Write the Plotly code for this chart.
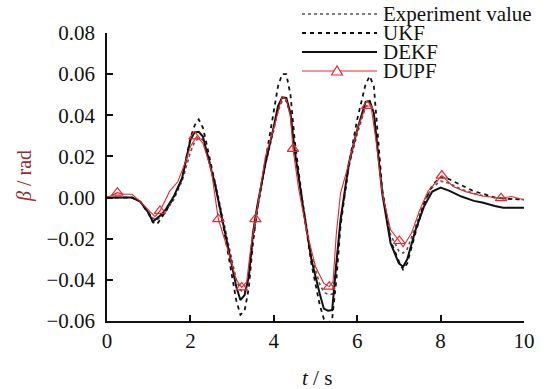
import plotly.graph_objects as go

# ---------------- data ----------------
exp_t = [0, 0.6, 0.8, 1.0, 1.1, 1.2, 1.3, 1.4, 1.6, 1.8, 2.0, 2.1, 2.2, 2.3, 2.4, 2.6, 2.8, 3.0, 3.1, 3.2, 3.3, 3.4,
         3.5, 3.6, 3.8, 4.0, 4.1, 4.2, 4.3, 4.4, 4.5, 4.7, 4.9, 5.1, 5.2, 5.3, 5.4, 5.5, 5.6, 5.8, 6.0, 6.2, 6.3, 6.4,
         6.5, 6.6, 6.8, 7.0, 7.1, 7.2, 7.4, 7.6, 7.8, 8.0, 8.2, 8.5, 8.8, 9.0, 9.3, 9.5, 10]
exp_v = [0, 0, -0.002, -0.007, -0.010, -0.011, -0.009, -0.007, -0.001, 0.008, 0.022, 0.027, 0.029, 0.028, 0.022, 0.007,
         -0.012, -0.031, -0.040, -0.045, -0.046, -0.039, -0.021, -0.007, 0.016, 0.033, 0.042, 0.047, 0.047, 0.040, 0.024,
         -0.003, -0.028, -0.042, -0.046, -0.047, -0.047, -0.033, -0.012, 0.015, 0.031, 0.044, 0.046, 0.041, 0.022, 0.003,
         -0.018, -0.026, -0.027, -0.025, -0.014, -0.002, 0.005, 0.008, 0.007, 0.004, 0.002, 0.001, 0.000, -0.0005, -0.001]

ukf_t = [0, 0.6, 0.8, 1.0, 1.1, 1.2, 1.3, 1.4, 1.6, 1.8, 2.0, 2.1, 2.2, 2.3, 2.4, 2.6, 2.8, 3.0, 3.1, 3.2, 3.3, 3.4,
         3.5, 3.6, 3.8, 4.0, 4.1, 4.2, 4.3, 4.4, 4.5, 4.7, 4.9, 5.1, 5.2, 5.3, 5.4, 5.5, 5.6, 5.8, 6.0, 6.2, 6.3, 6.4,
         6.5, 6.6, 6.8, 7.0, 7.1, 7.2, 7.4, 7.6, 7.8, 8.0, 8.2, 8.5, 8.8, 9.0, 9.3, 9.5, 10]
ukf_v = [0, 0, -0.002, -0.008, -0.012, -0.013, -0.010, -0.007, 0.000, 0.009, 0.029, 0.035, 0.038, 0.034, 0.025, 0.006,
         -0.015, -0.038, -0.050, -0.057, -0.055, -0.044, -0.022, -0.006, 0.018, 0.040, 0.054, 0.060, 0.060, 0.050, 0.028,
         -0.004, -0.032, -0.052, -0.059, -0.061, -0.059, -0.040, -0.014, 0.016, 0.038, 0.055, 0.059, 0.054, 0.028, 0.004,
         -0.021, -0.031, -0.035, -0.032, -0.017, -0.003, 0.006, 0.010, 0.009, 0.006, 0.003, 0.002, 0.000, -0.0005, -0.001]

dekf_t = [0, 0.6, 0.8, 1.0, 1.1, 1.2, 1.3, 1.4, 1.6, 1.8, 2.0, 2.1, 2.2, 2.3, 2.4, 2.6, 2.8, 3.0, 3.1, 3.2, 3.3, 3.4,
          3.5, 3.6, 3.8, 4.0, 4.1, 4.2, 4.3, 4.4, 4.5, 4.7, 4.9, 5.1, 5.2, 5.3, 5.4, 5.5, 5.6, 5.8, 6.0, 6.2, 6.3, 6.4,
          6.5, 6.6, 6.8, 7.0, 7.1, 7.2, 7.4, 7.6, 7.8, 8.0, 8.2, 8.5, 8.8, 9.0, 9.3, 9.5, 10]
dekf_v = [0, 0, -0.002, -0.0076, -0.0117, -0.010, -0.0084, -0.006, 0.0005, 0.0094, 0.028, 0.0317, 0.032, 0.0297, 0.0216,
          0.0054, -0.014, -0.0336, -0.0434, -0.0498, -0.0474, -0.0385, -0.0174, -0.0044, 0.0167, 0.0346, 0.0443, 0.0487,
          0.0484, 0.041, 0.023, -0.0044, -0.030, -0.0466, -0.054, -0.055, -0.0547, -0.032, -0.0109, 0.0167, 0.033, 0.0464,
          0.047, 0.041, 0.020, 0.0021, -0.0222, -0.032, -0.0336, -0.030, -0.0157, -0.0044, 0.0029, 0.0049, 0.0034, 0.0005,
          -0.0016, -0.0024, -0.0041, -0.0049, -0.0049]

dupf_t = [0, 0.25, 0.4, 0.6, 0.8, 1.0, 1.15, 1.27, 1.5, 1.7, 1.9, 2.0, 2.15, 2.3, 2.5, 2.67, 2.9, 3.1, 3.23, 3.35, 3.45,
          3.56, 3.8, 4.0, 4.2, 4.3, 4.4, 4.46, 4.6, 4.8, 5.0, 5.2, 5.33, 5.42, 5.5, 5.6, 5.8, 6.0, 6.2, 6.33, 6.45, 6.6,
          6.8, 7.01, 7.1, 7.3, 7.5, 7.7, 7.9, 8.03, 8.3, 8.6, 9.0, 9.45, 9.7, 10]
dupf_v = [0, 0.0024, 0.0016, 0.0016, -0.002, -0.006, -0.0093, -0.0065, 0.003, 0.0078, 0.0183, 0.0248, 0.0297, 0.0265,
          0.0135, -0.0105, -0.0255, -0.040, -0.0437, -0.041, -0.0239, -0.0105, 0.020, 0.0338, 0.0492, 0.0476, 0.0394,
          0.0237, 0.0037, -0.0174, -0.0336, -0.0417, -0.0433, -0.041, -0.0174, 0.0021, 0.0167, 0.033, 0.0443, 0.0446,
          0.028, 0.002, -0.0157, -0.0211, -0.0239, -0.0174, -0.006, 0.0032, 0.0078, 0.0107, 0.0054, 0.0029, 0.0008,
          -0.0003, 0.0005, -0.0011]

dupf_mark_t = [0.25, 1.27, 2.1, 2.67, 3.23, 3.56, 4.46, 5.33, 6.24, 7.01, 8.03, 9.45]
dupf_mark_v = [0.0024, -0.0065, 0.0297, -0.0105, -0.0437, -0.0105, 0.0237, -0.0433, 0.0446, -0.0211, 0.0107, -0.0003]

x_ticks = [0, 2, 4, 6, 8, 10]
y_ticks = [-0.06, -0.04, -0.02, 0.00, 0.02, 0.04, 0.06, 0.08]
y_tick_text = ["\u22120.06", "\u22120.04", "\u22120.02", "0.00", "0.02", "0.04", "0.06", "0.08"]

legend_names = ["Experiment value", "UKF", "DEKF", "DUPF"]

# ---------------- figure ----------------
RED = "#e8282c"
FONT = "Liberation Serif, Times New Roman, serif"

fig = go.Figure()
fig.add_trace(go.Scatter(x=exp_t, y=exp_v, mode="lines", name=legend_names[0],
                         line=dict(color="#555555", width=1.6, dash="dot")))
fig.add_trace(go.Scatter(x=ukf_t, y=ukf_v, mode="lines", name=legend_names[1],
                         line=dict(color="#111111", width=1.8, dash="4px,4px")))
fig.add_trace(go.Scatter(x=dekf_t, y=dekf_v, mode="lines", name=legend_names[2],
                         line=dict(color="#111111", width=2.0)))
fig.add_trace(go.Scatter(x=dupf_t, y=dupf_v, mode="lines", name=legend_names[3],
                         line=dict(color=RED, width=1.1)))
fig.add_trace(go.Scatter(x=dupf_mark_t, y=dupf_mark_v, mode="markers", name=legend_names[3],
                         marker=dict(symbol="triangle-up-open", size=10, color=RED, line=dict(width=1.2, color=RED))))

W, H = 555, 389
# plot area: x 107..524, y 33..321
ML, MT = 107, 33
MR, MB = W - 524, H - 321
pw, ph = W - ML - MR, H - MT - MB


def px_to_paper(x, y):
    """pixel -> paper coordinates"""
    return (x - ML) / pw, (H - MB - y) / ph


# manual legend
leg_x0, leg_x1, txt_x = 302, 377, 381
rows = [14, 33, 52, 71]
styles = [dict(color="#555555", width=1.6, dash="dot"),
          dict(color="#111111", width=1.8, dash="4px,4px"),
          dict(color="#111111", width=2.0),
          dict(color=RED, width=1.1)]
shapes = []
annotations = []
for name, ry, st in zip(legend_names, rows, styles):
    x0, y0 = px_to_paper(leg_x0, ry)
    x1, _ = px_to_paper(leg_x1, ry)
    shapes.append(dict(type="line", xref="paper", yref="paper", x0=x0, x1=x1, y0=y0, y1=y0, line=st))
    tx, _ = px_to_paper(txt_x, ry)
    annotations.append(dict(text=name, xref="paper", yref="paper", x=tx, y=y0, xanchor="left", yanchor="middle",
                            showarrow=False, font=dict(family=FONT, size=21, color="#111111")))
# triangle symbol in the DUPF legend row
cx = 337
cy = rows[3]
a = px_to_paper(cx, cy - 5)
b = px_to_paper(cx - 5.5, cy + 4)
c = px_to_paper(cx + 5.5, cy + 4)
shapes.append(dict(type="path", xref="paper", yref="paper",
                   path=f"M{b[0]},{b[1]} L{a[0]},{a[1]} L{c[0]},{c[1]} Z",
                   line=dict(color=RED, width=1.2), fillcolor="white"))

# axis titles
annotations.append(dict(text="<i>t</i> / s", xref="paper", yref="paper", x=px_to_paper(317, 0)[0],
                        y=px_to_paper(0, 378)[1], xanchor="center", yanchor="middle", showarrow=False,
                        font=dict(family=FONT, size=21, color="#111111")))
annotations.append(dict(text="<i>β</i> / rad", xref="paper", yref="paper", x=px_to_paper(24, 0)[0],
                        y=px_to_paper(0, 176)[1], xanchor="center", yanchor="middle", showarrow=False,
                        textangle=-90, font=dict(family=FONT, size=20, color="#9b2a2a")))

fig.update_layout(
    width=W, height=H,
    margin=dict(l=ML, r=MR, t=MT, b=MB),
    paper_bgcolor="white", plot_bgcolor="white",
    showlegend=False,
    shapes=shapes, annotations=annotations,
    font=dict(family=FONT, size=21, color="#111111"),
)
fig.update_xaxes(range=[0, 10], tickvals=x_ticks, ticks="inside", ticklen=6, tickwidth=1.5, tickcolor="#111111",
                 showline=True, linecolor="#111111", linewidth=1.5, showgrid=False, zeroline=False,
                 tickfont=dict(family=FONT, size=21, color="#111111"))
fig.update_yaxes(range=[-0.06, 0.08], tickvals=y_ticks, ticktext=y_tick_text, ticks="inside", ticklen=6,
                 tickwidth=1.5, tickcolor="#111111", showline=True, linecolor="#111111", linewidth=1.5,
                 showgrid=False, zeroline=False, ticklabelstandoff=6,
                 tickfont=dict(family=FONT, size=21, color="#111111"))

# remove the default page margin so the figure sits at the window's top-left corner
fig.write_html("out.html", config={"displayModeBar": False},
               post_script="document.body.style.margin='0px';")
